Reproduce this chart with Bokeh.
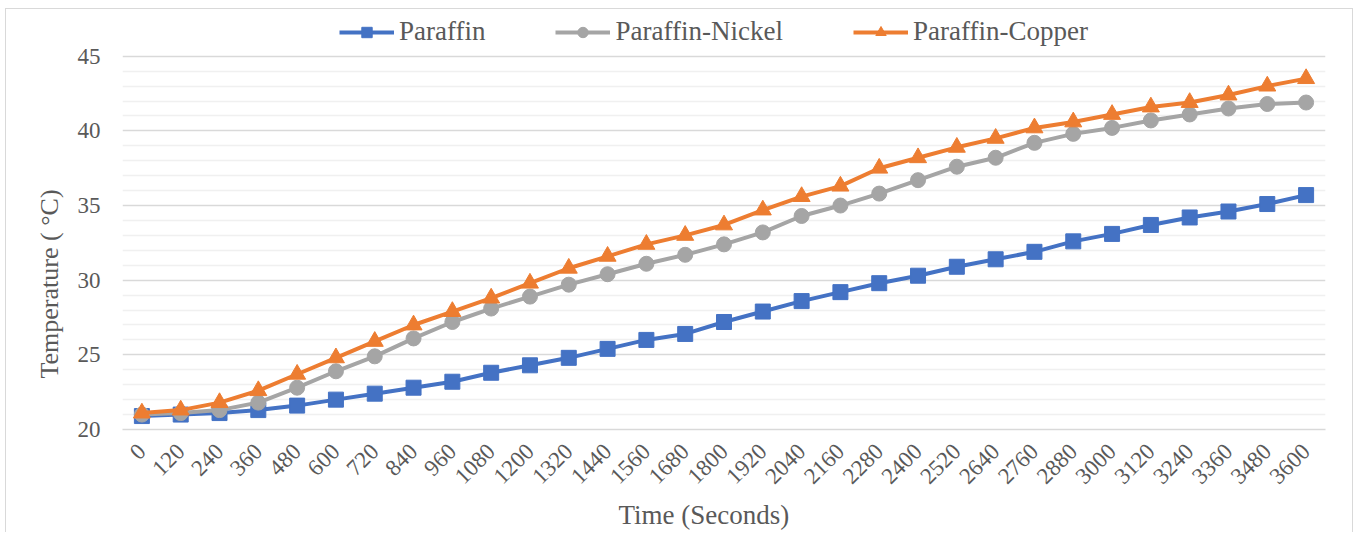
import math
from bokeh.plotting import figure
from bokeh.models import (FactorRange, Range1d, FixedTicker, Legend,
                          LegendItem, Title)
from bokeh.embed import file_html
from bokeh.resources import INLINE

# Time in seconds (category labels on the x axis)
time_s = [str(t) for t in range(0, 3601, 120)]

# Temperature readings in degrees C
paraffin = [20.9, 21.0, 21.1, 21.3, 21.6, 22.0, 22.4, 22.8, 23.2, 23.8, 24.3,
            24.8, 25.4, 26.0, 26.4, 27.2, 27.9, 28.6, 29.2, 29.8, 30.3, 30.9,
            31.4, 31.9, 32.6, 33.1, 33.7, 34.2, 34.6, 35.1, 35.7]
paraffin_nickel = [21.0, 21.1, 21.3, 21.8, 22.8, 23.9, 24.9, 26.1, 27.2, 28.1,
                   28.9, 29.7, 30.4, 31.1, 31.7, 32.4, 33.2, 34.3, 35.0, 35.8,
                   36.7, 37.6, 38.2, 39.2, 39.8, 40.2, 40.7, 41.1, 41.5, 41.8,
                   41.9]
paraffin_copper = [21.1, 21.3, 21.8, 22.6, 23.7, 24.8, 25.9, 27.0, 27.9, 28.8,
                   29.8, 30.8, 31.6, 32.4, 33.0, 33.7, 34.7, 35.6, 36.3, 37.5,
                   38.2, 38.9, 39.5, 40.2, 40.6, 41.1, 41.6, 41.9, 42.4, 43.0,
                   43.5]

series_names = ["Paraffin", "Paraffin-Nickel", "Paraffin-Copper"]

# y axis: labelled every 5 degrees, light grid lines every degree
y_major = [20, 25, 30, 35, 40, 45]
y_minor = [v for v in range(20, 46) if v not in y_major]

FONT = "Liberation Serif"
TEXT = "#595959"

# the plot area runs to the top of the chart so the legend sits inside it;
# the extra headroom above 45 carries no ticks or grid lines
p = figure(
    title=None,
    x_range=FactorRange(*time_s, range_padding=0),
    y_range=Range1d(20, 48.13),
    width=1348, height=524,
    output_backend="svg", toolbar_location=None,
    min_border_left=116, min_border_right=29,
    min_border_top=0, min_border_bottom=102,
    margin=(8, 0, 0, 5),
)
p.styles = {"border-left": "1px solid #D9D9D9",
            "border-top": "1px solid #D9D9D9",
            "border-right": "1px solid #D9D9D9"}
p.outline_line_color = None
p.background_fill_color = "white"
p.border_fill_color = "white"

p.yaxis.ticker = FixedTicker(ticks=y_major, minor_ticks=y_minor)
p.yaxis.axis_line_color = None
p.yaxis.major_tick_line_color = None
p.yaxis.minor_tick_line_color = None
p.yaxis.major_label_standoff = 16
p.yaxis.major_label_text_font = FONT
p.yaxis.major_label_text_font_size = "23px"
p.yaxis.major_label_text_color = TEXT

p.ygrid.grid_line_color = "#D9D9D9"
p.ygrid.grid_line_width = 1.5
p.ygrid.minor_grid_line_color = "#F0F0F0"
p.ygrid.minor_grid_line_width = 1.5
p.xgrid.grid_line_color = None

# x axis with slanted time labels
p.xaxis.axis_line_color = "#D9D9D9"
p.xaxis.axis_line_width = 1.5
p.xaxis.major_tick_line_color = None
p.xaxis.minor_tick_line_color = None
p.xaxis.major_label_orientation = math.pi / 4
p.xaxis.major_label_standoff = 12
p.xaxis.major_label_text_font = FONT
p.xaxis.major_label_text_font_size = "23px"
p.xaxis.major_label_text_color = TEXT

colors = ["#4472C4", "#A5A5A5", "#ED7D31"]
markers = ["square", "circle", "triangle"]
sizes = [15, 15, 17]
items = []
for name, vals, c, m, s in zip(series_names,
                               [paraffin, paraffin_nickel, paraffin_copper],
                               colors, markers, sizes):
    ln = p.line(time_s, vals, line_color=c, line_width=4)
    sc = p.scatter(time_s, vals, marker=m, size=s, fill_color=c, line_color=c)
    items.append(LegendItem(label=name, renderers=[ln, sc]))

legend = Legend(items=items, orientation="horizontal", location=(217, 382))
legend.border_line_color = None
legend.background_fill_alpha = 0
legend.glyph_width = 55
legend.glyph_height = 26
legend.label_standoff = 5
legend.spacing = 70
legend.padding = 4
legend.margin = 0
legend.label_text_font = FONT
legend.label_text_font_size = "27px"
legend.label_text_color = TEXT
p.add_layout(legend, "center")

# axis titles
p.add_layout(Title(text="Temperature ( °C)", align="left", offset=51,
                   standoff=22, text_font=FONT, text_font_size="26px",
                   text_font_style="normal", text_color=TEXT), "left")
p.add_layout(Title(text="Time (Seconds)", align="left", offset=496,
                   standoff=8, text_font=FONT, text_font_size="27px",
                   text_font_style="normal", text_color=TEXT), "below")

open("out.html", "w").write(file_html(p, INLINE))
